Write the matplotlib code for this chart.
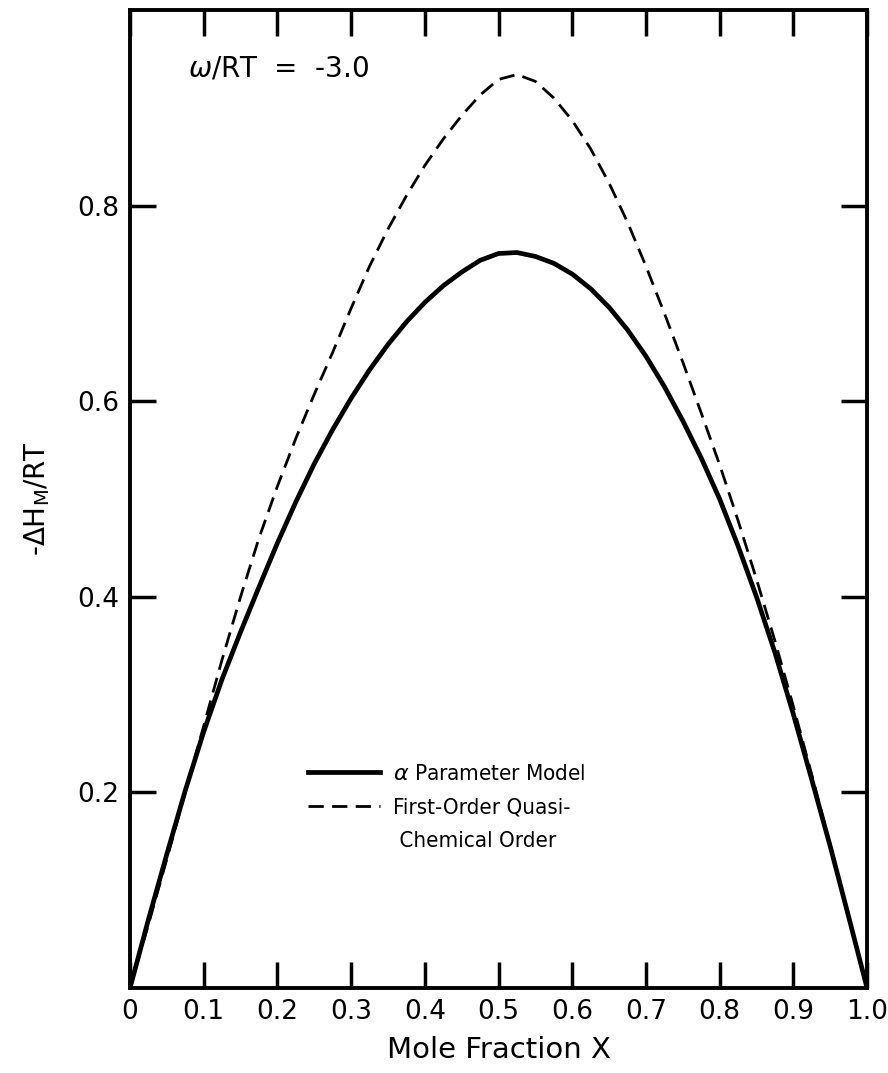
import matplotlib
matplotlib.use("Agg")
import matplotlib.pyplot as plt
from matplotlib.lines import Line2D
from matplotlib import font_manager

# mole fraction X
x = [0.0, 0.025, 0.05, 0.075, 0.1, 0.125, 0.15, 0.175, 0.2, 0.225,
     0.25, 0.275, 0.3, 0.325, 0.35, 0.375, 0.4, 0.425, 0.45, 0.475,
     0.5, 0.525, 0.55, 0.575, 0.6, 0.625, 0.65, 0.675, 0.7, 0.725,
     0.75, 0.775, 0.8, 0.825, 0.85, 0.875, 0.9, 0.925, 0.95, 0.975, 1.0]

# alpha parameter model
alpha_model = [0.0, 0.07, 0.137, 0.202, 0.262, 0.316, 0.364, 0.41, 0.455, 0.497,
               0.536, 0.571, 0.603, 0.632, 0.658, 0.681, 0.701, 0.718, 0.732, 0.744,
               0.751, 0.752, 0.748, 0.741, 0.73, 0.715, 0.696, 0.673, 0.646, 0.615,
               0.58, 0.542, 0.50, 0.452, 0.40, 0.343, 0.28, 0.213, 0.145, 0.073, 0.0]

# first-order quasi-chemical
quasi_chem = [0.0, 0.065, 0.132, 0.2, 0.268, 0.336, 0.40, 0.46, 0.513, 0.562,
              0.607, 0.65, 0.695, 0.738, 0.776, 0.81, 0.841, 0.868, 0.892, 0.913,
              0.929, 0.934, 0.927, 0.91, 0.887, 0.858, 0.823, 0.783, 0.738, 0.69,
              0.64, 0.588, 0.535, 0.478, 0.418, 0.355, 0.288, 0.218, 0.146, 0.073, 0.0]

xticks = [0, 0.1, 0.2, 0.3, 0.4, 0.5, 0.6, 0.7, 0.8, 0.9, 1.0]
xticklabels = ['0', '0.1', '0.2', '0.3', '0.4', '0.5', '0.6', '0.7', '0.8', '0.9', '1.0']
yticks = [0.2, 0.4, 0.6, 0.8]
yticklabels = ['0.2', '0.4', '0.6', '0.8']

plt.rcParams['font.family'] = ['DejaVu Sans']

fig = plt.figure(figsize=(8.88, 10.73), dpi=100)
ax = fig.add_axes([0.1464, 0.0792, 0.830, 0.9115])

ax.plot(x, alpha_model, color='black', lw=3.4, solid_capstyle='round')
ax.plot(x, quasi_chem, color='black', lw=2.0, dashes=(5.5, 3))

ax.set_xlim(0, 1.0)
ax.set_ylim(0, 1.0)
ax.set_xticks(xticks)
ax.set_xticklabels(xticklabels, fontsize=19)
ax.set_yticks(yticks)
ax.set_yticklabels(yticklabels, fontsize=19)
ax.tick_params(direction='in', length=19, width=2.5, top=True, right=True, pad=8)

for s in ax.spines.values():
    s.set_linewidth(2.8)

ax.set_xlabel('Mole Fraction X', fontsize=21, labelpad=8)
ax.set_ylabel(r'-$\Delta$H$_\mathregular{M}$/RT', fontsize=20, labelpad=18)

ax.text(0.079, 0.94, r'$\omega$/RT  =  -3.0', transform=ax.transAxes,
        fontsize=20, va='center', ha='left')

legfont = font_manager.FontProperties(family='DejaVu Sans', stretch='condensed', size=16)
handles = [Line2D([], [], color='black', lw=3.4),
           Line2D([], [], color='black', lw=2.0, dashes=(5.5, 3)),
           Line2D([], [], color='none')]
labels = [r'$\alpha$ Parameter Model', 'First-Order Quasi-', ' Chemical Order']
leg = ax.legend(handles, labels, loc='upper left', bbox_to_anchor=(0.23, 0.238),
                frameon=False, handlelength=3.2, handletextpad=0.6,
                labelspacing=0.6, borderaxespad=0, prop=legfont)

fig.savefig('out.png', dpi=100)
